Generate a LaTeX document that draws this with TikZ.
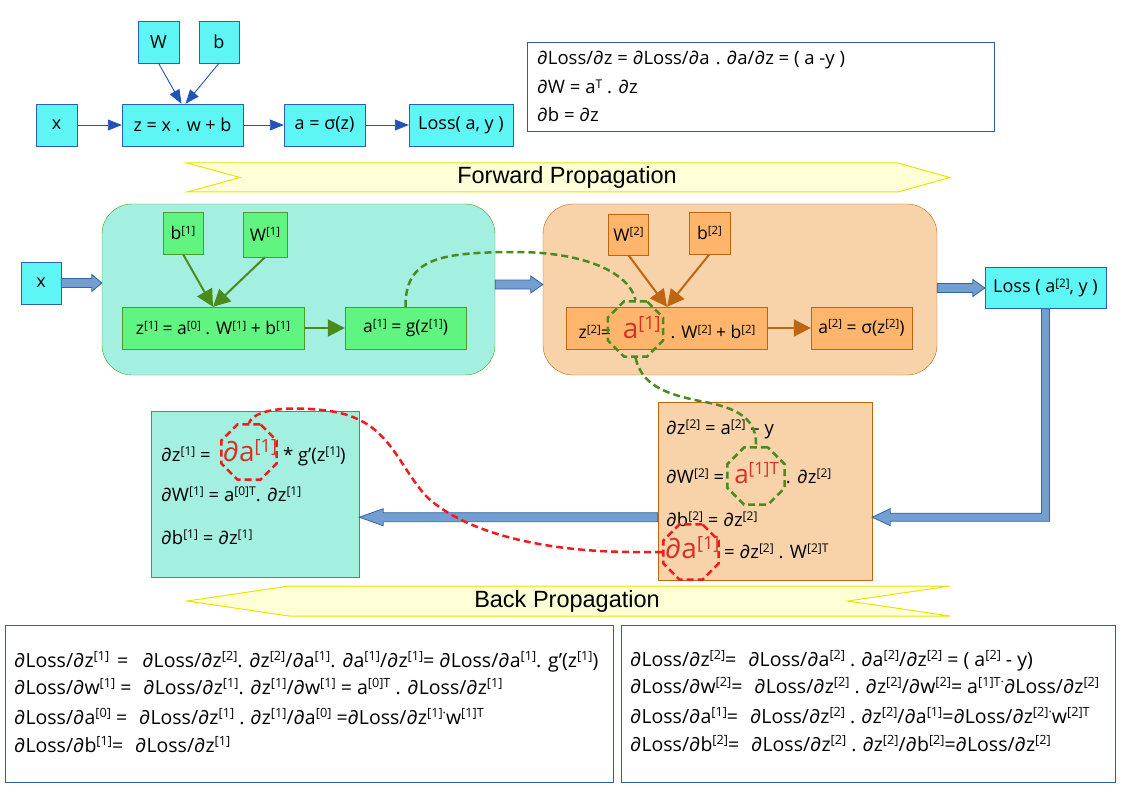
\documentclass[tikz,border=0pt]{standalone}
\usepackage{fontspec}
\setmainfont{Open Sans}
\newfontfamily\bannerfont{Liberation Sans}
\usetikzlibrary{arrows.meta,positioning,calc,shapes.geometric}
\definecolor{CyanFill}{HTML}{5EF5F5}
\definecolor{CyanLine}{HTML}{2B5FBF}
\definecolor{TopArrow}{HTML}{1F55B8}
\definecolor{MintFill}{HTML}{A3F0E1}
\definecolor{GreenLine}{HTML}{4E9A2A}
\definecolor{GreenFill}{HTML}{5FF580}
\definecolor{GreenArrow}{HTML}{4B8B1B}
\definecolor{PeachFill}{HTML}{F8D2A8}
\definecolor{OrangeLine}{HTML}{C0650F}
\definecolor{OrangeFill}{HTML}{FFB66C}
\definecolor{FatFill}{HTML}{729FCF}
\definecolor{FatLine}{HTML}{3465A4}
\definecolor{BannerFill}{HTML}{FFFFD7}
\definecolor{BannerLine}{HTML}{E6E600}
\definecolor{BoxLine}{HTML}{2A5DB0}
\definecolor{MarkRed}{HTML}{D93025}
\definecolor{DashRed}{HTML}{F21B1B}
\definecolor{DashGreen}{HTML}{4A8A1E}
\newcommand\fs[1]{\fontsize{#1}{#1}\selectfont}
\newcommand\sps[1]{\raisebox{0.32em}{\scalebox{0.65}{#1}}}
\newcommand\hl[2][28]{{\color{MarkRed}\fs{#1}#2}}
% wide arrow, drawn as one outline
\newcommand\fatarrow[3]{%
 \filldraw[fat] let \p1=(#1), \p2=(#2), \n1={ifthenelse(\x2>\x1,1,-1)} in
 (\x1,\y1+4.5pt) -- (\x2-\n1*#3,\y1+4.5pt) -- (\x2-\n1*#3,\y1+8.5pt) -- (\x2,\y1)
 -- (\x2-\n1*#3,\y1-8.5pt) -- (\x2-\n1*#3,\y1-4.5pt) -- (\x1,\y1-4.5pt) -- cycle;}
\tikzset{>=Stealth,
 cbox/.style={draw=CyanLine,fill=CyanFill,inner sep=0pt,font=\fs{18}},
 gbox/.style={draw=GreenLine,fill=GreenFill,inner sep=0pt,font=\fs{17.5}},
 obox/.style={draw=OrangeLine,fill=OrangeFill,inner sep=0pt,font=\fs{17.5}},
 layerA/.style={draw=GreenLine,fill=MintFill,rounded corners=30pt},
 layerB/.style={draw=OrangeLine,fill=PeachFill,rounded corners=30pt},
 eqbox/.style={draw=BoxLine,line width=0.9pt},
 eq/.style={anchor=base west,inner sep=0pt,font=\fs{18.5}},
 banner/.style={draw=BannerLine,fill=BannerFill,line width=1pt},
 bantext/.style={font=\bannerfont\fs{23.5}},
 tarrow/.style={TopArrow,line width=0.9pt,-{Triangle[length=14pt,width=11pt]}},
 garrow/.style={GreenArrow,line width=2pt,-{Triangle[length=17pt,width=17pt]}},
 oarrow/.style={OrangeLine,line width=2pt,-{Triangle[length=17pt,width=17pt]}},
 fat/.style={draw=FatLine,fill=FatFill,line width=0.8pt},
 octo/.style={regular polygon,regular polygon sides=8,minimum size=60pt,inner sep=0pt,
  line width=2.5pt,dash pattern=on 7pt off 4pt},
 gdash/.style={DashGreen,line width=2.5pt,dash pattern=on 7pt off 4pt},
 rdash/.style={DashRed,line width=2.5pt,dash pattern=on 7pt off 4pt}}
\begin{document}
\begin{tikzpicture}[x=1pt,y=-1pt]
\useasboundingbox (0,0) rectangle (1123,794);
% one unit, as the top graph
\node[cbox,minimum width=41,minimum height=42] (Wt) at (158.5,42) {W};
\node[cbox,minimum width=40,minimum height=42] (bt) at (219,42) {b};
\node[cbox,minimum width=41,minimum height=42] (xt) at (56.5,125) {x};
\node[cbox,minimum width=121,minimum height=42] (zt) at (182.5,125) {z = x . w + b};
\node[cbox,minimum width=81,minimum height=42] (at) at (324.5,125) {a = σ(z)};
\node[cbox,minimum width=104,minimum height=42] (losst) at (461,125) {Loss( a, y )};
\draw[tarrow] (Wt.south) -- ($(zt.north)+(-1,0)$);
\draw[tarrow] (bt.south) -- ($(zt.north)+(3,0)$);
\draw[tarrow] (xt) -- (zt);
\draw[tarrow] (zt) -- (at);
\draw[tarrow] (at) -- (losst);
\node[eqbox,minimum width=467,minimum height=89] (fbox) at (760.5,86.5) {};
\node[eq] (f1) at (537,65) {∂Loss/∂z = ∂Loss/∂a\hspace{6pt}.\hspace{6pt}∂a/∂z = ( a -y )};
\node[eq] (f2) at (537,94) {∂W = a\sps{T} . ∂z};
\node[eq] (f3) at (537,122) {∂b = ∂z};
% banners
\draw[banner] (187,163) -- (898,163) -- (950,177.5) -- (898,192) -- (187,192) -- (240,177.5) -- cycle;
\node[bantext] (fwd) at (567,177.5) {Forward Propagation};
\draw[banner] (187,601) -- (289,586) -- (950,586) -- (848,601) -- (950,616) -- (289,616) -- cycle;
\node[bantext] (bwd) at (567,601) {Back Propagation};
% forward, two layers
\node[layerA,minimum width=393,minimum height=171] (layer1) at (298.5,289.5) {};
\node[layerB,minimum width=394,minimum height=171] (layer2) at (740,289.5) {};
\node[cbox,minimum width=40,minimum height=42] (x1in) at (41,283) {x};
\node[gbox,minimum width=40,minimum height=42] (b1) at (183,233) {b\sps{[1]}};
\node[gbox,minimum width=44,minimum height=45] (W1) at (265,234.5) {W\sps{[1]}};
\node[gbox,minimum width=182,minimum height=42] (z1) at (213,328) {z\sps{[1]} = a\sps{[0]} . W\sps{[1]} + b\sps{[1]}};
\node[gbox,minimum width=121,minimum height=42] (a1) at (405.5,328) {a\sps{[1]} = g(z\sps{[1]})};
\node[obox,minimum width=40,minimum height=41] (W2) at (628.5,234.5) {W\sps{[2]}};
\node[obox,minimum width=41,minimum height=42] (b2) at (709.5,233) {b\sps{[2]}};
\node[obox,minimum width=201,minimum height=42] (z2) at (667,328)
 {z\sps{[2]}=\hspace{12pt}\hl{a\sps{[1]}}\hspace{10pt}. W\sps{[2]} + b\sps{[2]}};
\node[obox,minimum width=101,minimum height=42] (a2) at (861.5,328) {a\sps{[2]} = σ(z\sps{[2]})};
\node[cbox,minimum width=121,minimum height=41] (loss2) at (1045.5,288) {Loss ( a\sps{[2]}, y )};
\draw[garrow] (b1.south) -- (z1.north);
\draw[garrow] (W1.south) -- (z1.north);
\draw[garrow] (z1) -- (a1);
\draw[oarrow] (W2.south) -- (z2.north);
\draw[oarrow] (b2.south) -- (z2.north);
\draw[oarrow] (z2) -- (a2);
\fatarrow{x1in.east}{layer1.west}{10pt}
\fatarrow{$(layer1.east)+(0,-5)$}{layer2.west}{12pt}
\fatarrow{layer2.east |- loss2.west}{loss2.west}{12pt}
% backward, two boxes
\node[draw=GreenLine,fill=MintFill,minimum width=208,minimum height=166] (gb) at (255,494) {};
\node[draw=OrangeLine,fill=PeachFill,minimum width=214,minimum height=178] (ob) at (765,491) {};
\coordinate (turn) at ($(loss2.south)+(0,208.5)$);
\filldraw[fat] let \p1=(loss2.south), \p2=(turn), \p3=(ob.east) in
 (\x1-4pt,\y1) -- (\x1-4pt,\y2+4pt) -- (\x3+18pt,\y2+4pt) -- (\x3+18pt,\y2+8.5pt) -- (\x3,\y2)
 -- (\x3+18pt,\y2-8.5pt) -- (\x3+18pt,\y2-4pt) -- (\x1+4pt,\y2-4pt) -- (\x1+4pt,\y1) -- cycle;
\fatarrow{ob.west |- turn}{gb.east}{24pt}
\node[eq] (g1) at (161,461) {∂z\sps{[1]} =\hspace{12pt}\hl{∂a\sps{[1]}}\hspace{6pt}* g’(z\sps{[1]})};
\node[eq] (g2) at (161,501) {∂W\sps{[1]} = a\sps{[0]T}. ∂z\sps{[1]}};
\node[eq] (g3) at (161,544) {∂b\sps{[1]} = ∂z\sps{[1]}};
\node[eq] (o1) at (666,434) {∂z\sps{[2]} = a\sps{[2]} – y};
\node[eq] (o2) at (666,483) {∂W\sps{[2]} =\hspace{10pt}\hl[26]{a\sps{[1]T}}\hspace{7pt}. ∂z\sps{[2]}};
\node[eq] (o3) at (666,526) {∂b\sps{[2]} = ∂z\sps{[2]}};
\node[eq] (o4) at (665,558) {\hl{∂a\sps{[1]}} = ∂z\sps{[2]} . W\sps{[2]T}};
% chain rule, both layers
\node[eqbox,minimum width=608,minimum height=157] (bl) at (309,703.5) {};
\node[eqbox,minimum width=494,minimum height=157] (br) at (868,703.5) {};
\foreach \y/\t [count=\i] in {
 667/{∂Loss/∂z\sps{[1]}\hspace{8pt}=\hspace{14pt}∂Loss/∂z\sps{[2]}. ∂z\sps{[2]}/∂a\sps{[1]}. ∂a\sps{[1]}/∂z\sps{[1]}= ∂Loss/∂a\sps{[1]}. g’(z\sps{[1]})},
 694/{∂Loss/∂w\sps{[1]} =\hspace{12pt}∂Loss/∂z\sps{[1]}. ∂z\sps{[1]}/∂w\sps{[1]} = a\sps{[0]T} . ∂Loss/∂z\sps{[1]}},
 724/{∂Loss/∂a\sps{[0]} =\hspace{12pt}∂Loss/∂z\sps{[1]} .\hspace{6pt}∂z\sps{[1]}/∂a\sps{[0]} =∂Loss/∂z\sps{[1]}\sps{·}w\sps{[1]T}},
 752/{∂Loss/∂b\sps{[1]}=\hspace{12pt}∂Loss/∂z\sps{[1]}}}
 {\node[eq,font=\fs{19.5}] (bl\i) at (14,\y) {\t};}
\foreach \y/\t [count=\i] in {
 666/{∂Loss/∂z\sps{[2]}=\hspace{12pt}∂Loss/∂a\sps{[2]} .\hspace{6pt}∂a\sps{[2]}/∂z\sps{[2]} = ( a\sps{[2]} - y)},
 693/{∂Loss/∂w\sps{[2]}=\hspace{12pt}∂Loss/∂z\sps{[2]} .\hspace{6pt}∂z\sps{[2]}/∂w\sps{[2]}= a\sps{[1]T}\sps{·}∂Loss/∂z\sps{[2]}},
 723/{∂Loss/∂a\sps{[1]}=\hspace{12pt}∂Loss/∂z\sps{[2]} .\hspace{6pt}∂z\sps{[2]}/∂a\sps{[1]}=∂Loss/∂z\sps{[2]}\sps{·}w\sps{[2]T}},
 751/{∂Loss/∂b\sps{[2]}=\hspace{12pt}∂Loss/∂z\sps{[2]} .\hspace{6pt}∂z\sps{[2]}/∂b\sps{[2]}=∂Loss/∂z\sps{[2]}}}
 {\node[eq,font=\fs{19.5}] (br\i) at (630,\y) {\t};}
% marks and the links between them
\node[octo,draw=DashGreen] (oa1) at (635.5,329) {};
\node[octo,draw=DashGreen,minimum size=62pt] (oa1t) at (756,476) {};
\node[octo,draw=DashRed] (od1) at (249,452) {};
\node[octo,draw=DashRed] (od2) at (691,552) {};
\draw[gdash] (a1.north) .. controls (405,258) and (440,252) .. (520,252)
 .. controls (590,253) and (630,275) .. (oa1.north);
\draw[gdash] (oa1.south) .. controls (642,385) and (665,394) .. (700,401)
 .. controls (740,408) and (757,420) .. (oa1t.north);
\draw[rdash] (od2.west) -- (630,552) .. controls (530,551) and (458,528) .. (425,495)
 .. controls (395,460) and (388,420) .. (330,411) .. controls (285,405) and (254,410) .. (od1.north);
\end{tikzpicture}
\end{document}
